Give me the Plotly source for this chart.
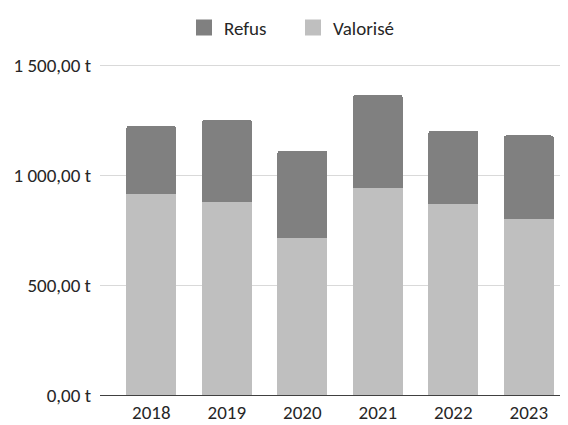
import plotly.graph_objects as go

years = ["2018", "2019", "2020", "2021", "2022", "2023"]
valorise = [914, 877, 714, 943, 869, 802]
total = [1224, 1253, 1112, 1365, 1203, 1181]
refus = [t - v for t, v in zip(total, valorise)]

y_tickvals = [0, 500, 1000, 1500]
y_ticktext = ["0,00 t", "500,00 t", "1 000,00 t", "1 500,00 t"]

C_REFUS = "#808080"
C_VAL = "#BFBFBF"
FONT = "Carlito, Lato, sans-serif"
TXT = "#262626"
FS = 19

# the page has an 8px body margin, so the figure is drawn 8px smaller
W, H = 560, 417

fig = go.Figure()
fig.add_trace(go.Bar(x=years, y=valorise, name="Valorisé", marker_color=C_VAL,
                     marker_line_width=0, showlegend=False))
fig.add_trace(go.Bar(x=years, y=refus, name="Refus", marker_color=C_REFUS,
                     marker_line_width=0, showlegend=False))
# legend entries with larger squares
fig.add_trace(go.Scatter(x=[None], y=[None], mode="markers", name="Refus",
                         marker=dict(symbol="square", size=19, color=C_REFUS)))
fig.add_trace(go.Scatter(x=[None], y=[None], mode="markers", name="Valorisé",
                         marker=dict(symbol="square", size=19, color=C_VAL)))

fig.update_layout(
    width=W, height=H,
    margin=dict(l=92, r=1, t=54, b=26),
    barmode="stack", bargap=0.34, barcornerradius=3,
    plot_bgcolor="white", paper_bgcolor="white",
    font=dict(family=FONT, size=FS, color=TXT),
    legend=dict(orientation="h", xref="container", yref="container",
                x=176 / W, xanchor="left", y=1 - 19.7 / H, yanchor="middle",
                itemsizing="trace", font=dict(size=FS, color=TXT),
                traceorder="normal", entrywidth=64),
    xaxis=dict(type="category", range=[-0.68, 5.506], showgrid=False,
               showline=True, linecolor="#404040", linewidth=1,
               ticks="", tickfont=dict(size=FS, color=TXT), fixedrange=True),
    yaxis=dict(range=[0, 1515], tickvals=y_tickvals, ticktext=y_ticktext,
               showgrid=True, gridcolor="#D9D9D9", gridwidth=1,
               zeroline=False, showline=False, ticks="",
               ticklabelstandoff=8, tickfont=dict(size=FS, color=TXT)),
)

fig.write_html("out.html")
